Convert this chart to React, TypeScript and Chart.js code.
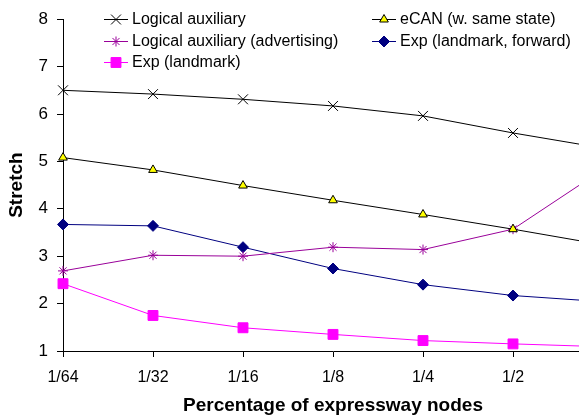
import React, { useEffect, useRef } from 'react';
import { Chart, registerables } from 'chart.js';
import { drawPoint } from 'chart.js/helpers';

Chart.register(...registerables);

const categories = ['1/64', '1/32', '1/16', '1/8', '1/4', '1/2', '1'];
const logicalAux = [6.5, 6.42, 6.31, 6.17, 5.96, 5.6, 5.28];
const ecanSame = [5.08, 4.82, 4.49, 4.18, 3.88, 3.57, 3.24];
const logicalAuxAdv = [2.69, 3.02, 3.0, 3.19, 3.14, 3.57, 4.83];
const expForward = [3.67, 3.64, 3.19, 2.74, 2.4, 2.17, 2.04];
const expLandmark = [2.42, 1.75, 1.49, 1.35, 1.22, 1.15, 1.09];
const yMin = 1;
const yMax = 8;

const FONT = 'Arial, "Liberation Sans", sans-serif';

const legendPlugin = {
  id: 'insideLegend',
  afterDraw(chart: any) {
    const ctx = chart.ctx;
    const ds = chart.data.datasets;
    const layout = [
      { i: 0, x: 104, y: 19 },
      { i: 1, x: 372, y: 19 },
      { i: 2, x: 104, y: 41 },
      { i: 3, x: 372, y: 41 },
      { i: 4, x: 104, y: 62 },
    ];
    ctx.save();
    ctx.font = `16px ${FONT}`;
    ctx.textBaseline = 'middle';
    ctx.textAlign = 'left';
    for (const item of layout) {
      const d = ds[item.i];
      ctx.strokeStyle = d.borderColor;
      ctx.lineWidth = 1;
      ctx.beginPath();
      ctx.moveTo(item.x, item.y + 0.5);
      ctx.lineTo(item.x + 24, item.y + 0.5);
      ctx.stroke();
      ctx.fillStyle = d.pointBackgroundColor;
      ctx.strokeStyle = d.pointBorderColor;
      ctx.lineWidth = 1;
      drawPoint(ctx, { pointStyle: d.pointStyle, radius: d.pointRadius, borderWidth: 1, rotation: 0 } as any, item.x + 12, item.y + 0.5);
      ctx.fillStyle = '#000';
      ctx.fillText(d.label, item.x + 28, item.y + 1);
    }
    ctx.restore();
  },
};

export default function App() {
  const ref = useRef<HTMLCanvasElement | null>(null);
  useEffect(() => {
    if (!ref.current) return;
    const chart = new Chart(ref.current, {
      type: 'line',
      data: {
        labels: categories,
        datasets: [
          {
            label: 'Logical auxiliary',
            data: logicalAux,
            borderColor: '#000000',
            backgroundColor: '#000000',
            pointStyle: 'crossRot',
            pointRadius: 7,
            pointBorderColor: '#000000',
            pointBackgroundColor: '#000000',
            pointBorderWidth: 1,
            borderWidth: 1,
          },
          {
            label: 'eCAN (w. same state)',
            data: ecanSame,
            borderColor: '#000000',
            backgroundColor: '#FFFF00',
            pointStyle: 'triangle',
            pointRadius: 5,
            pointBorderColor: '#000000',
            pointBackgroundColor: '#FFFF00',
            pointBorderWidth: 1,
            borderWidth: 1,
          },
          {
            label: 'Logical auxiliary (advertising)',
            data: logicalAuxAdv,
            borderColor: '#990099',
            backgroundColor: '#990099',
            pointStyle: 'star',
            pointRadius: 5,
            pointBorderColor: '#990099',
            pointBackgroundColor: '#990099',
            pointBorderWidth: 1,
            borderWidth: 1,
          },
          {
            label: 'Exp (landmark, forward)',
            data: expForward,
            borderColor: '#000080',
            backgroundColor: '#000080',
            pointStyle: 'rectRot',
            pointRadius: 5.5,
            pointBorderColor: '#000080',
            pointBackgroundColor: '#000080',
            pointBorderWidth: 1,
            borderWidth: 1,
          },
          {
            label: 'Exp (landmark)',
            data: expLandmark,
            borderColor: '#FF00FF',
            backgroundColor: '#FF00FF',
            pointStyle: 'rect',
            pointRadius: 7,
            pointBorderColor: '#FF00FF',
            pointBackgroundColor: '#FF00FF',
            pointBorderWidth: 1,
            borderWidth: 1,
          },
        ],
      },
      options: {
        responsive: false,
        animation: false,
        devicePixelRatio: 1,
        layout: { padding: { left: 0, top: 15, right: 17, bottom: 0 } },
        plugins: {
          legend: { display: false },
          tooltip: { enabled: false },
        },
        scales: {
          x: {
            type: 'category',
            offset: false,
            grid: { drawOnChartArea: false, drawTicks: true, tickLength: 6, color: '#000' },
            border: { display: true, color: '#000', width: 1 },
            ticks: { color: '#000', font: { family: FONT, size: 16 }, padding: 11, autoSkip: false, maxRotation: 0 },
            title: {
              display: true,
              text: 'Percentage of expressway nodes',
              color: '#000',
              font: { family: FONT, size: 19, weight: 'bold' },
              padding: { top: 0, bottom: 1 },
            },
            afterFit: (s: any) => { s.height = 67; },
          },
          y: {
            min: yMin,
            max: yMax,
            grid: { drawOnChartArea: false, drawTicks: true, tickLength: 6, color: '#000' },
            border: { display: true, color: '#000', width: 1 },
            ticks: { stepSize: 1, color: '#000', font: { family: FONT, size: 17 }, padding: 9 },
            title: {
              display: true,
              text: 'Stretch',
              color: '#000',
              font: { family: FONT, size: 19, weight: 'bold' },
              padding: { top: 5, bottom: 0 },
            },
            afterFit: (s: any) => { s.width = 63; },
          },
        },
      },
      plugins: [legendPlugin],
    });
    return () => chart.destroy();
  }, []);
  return (
    <div style={{ position: 'fixed', left: 0, top: 0, width: 579, height: 418, overflow: 'hidden', background: '#fff' }}>
      <canvas ref={ref} width={620} height={418} style={{ width: 620, height: 418, display: 'block' }} />
    </div>
  );
}
